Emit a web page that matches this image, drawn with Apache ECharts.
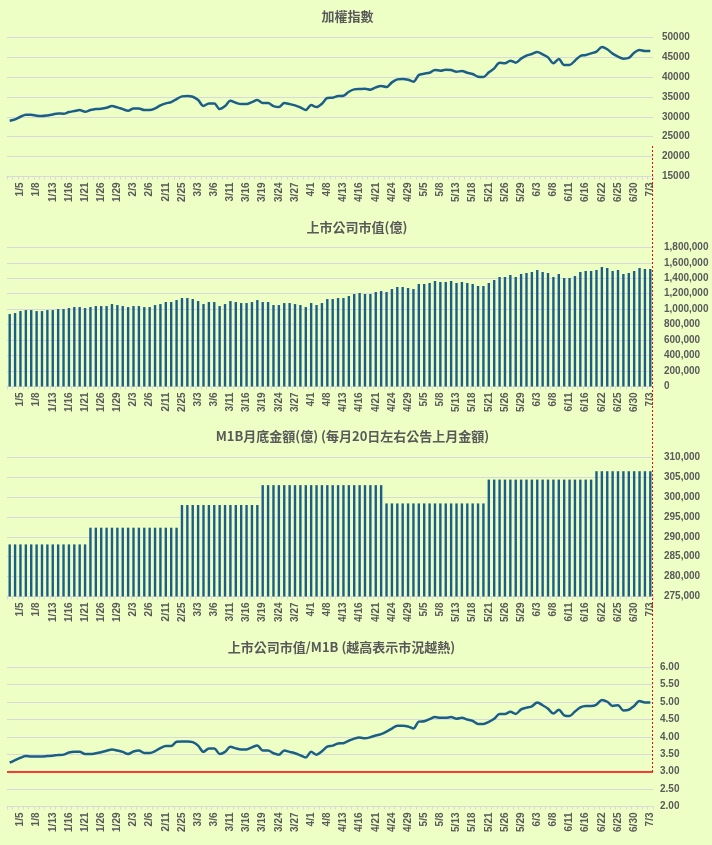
<!DOCTYPE html>
<html>
<head>
<meta charset="utf-8">
<script src="https://cdn.jsdelivr.net/npm/echarts@6/dist/echarts.min.js"></script>
<style>
html,body{margin:0;padding:0;background:#eeffc6;}
#c{width:712px;height:845px;}
</style>
</head>
<body>
<div id="c"></div>
<script>
const dates = ['12/31','1/2',
'1/5','1/6','1/7','1/8','1/9','1/12','1/13','1/14','1/15','1/16','1/19','1/20','1/21','1/22','1/23','1/26','1/27','1/28','1/29','1/30',
'2/2','2/3','2/4','2/5','2/6','2/9','2/10','2/11','2/23','2/24','2/25','2/26',
'3/2','3/3','3/4','3/5','3/6','3/9','3/10','3/11','3/12','3/13','3/16','3/17','3/18','3/19','3/20','3/23','3/24','3/25','3/26','3/27','3/30','3/31',
'4/1','4/2','4/7','4/8','4/9','4/10','4/13','4/14','4/15','4/16','4/17','4/20','4/21','4/22','4/23','4/24','4/27','4/28','4/29','4/30',
'5/4','5/5','5/6','5/7','5/8','5/11','5/12','5/13','5/14','5/15','5/18','5/19','5/20','5/21','5/22','5/25','5/26','5/27','5/28','5/29',
'6/1','6/2','6/3','6/4','6/5','6/8','6/9','6/10','6/11','6/12','6/15','6/16','6/17','6/18','6/22','6/23','6/24','6/25','6/26','6/29','6/30',
'7/1','7/2','7/3'];

const titles = ['加權指數', '上市公司市值(億)', 'M1B月底金額(億) (每月20日左右公告上月金額)', '上市公司市值/M1B (越高表示市況越熱)'];

const taiex = [
29020,29350,30020,30530,30530,30280,30190,30360,30610,30860,
30780,31200,31450,31700,31280,31700,31950,32040,32290,32710,
32370,31950,31530,32120,32120,31700,31700,32120,32880,33380,
33720,34470,35140,35230,35060,34220,32710,33380,33380,31950,
32710,34050,33550,33210,33210,33720,34220,33470,33470,32710,
32460,33470,33210,32880,32370,31700,32960,32460,33300,34720,
34810,35230,35310,36320,36910,37000,37070,36820,37410,37750,
37490,38670,39420,39510,39340,38840,40520,40850,41100,41770,
41610,41860,41770,41350,41520,41100,40770,40100,40010,41190,
42190,43620,43450,44120,43620,44630,45380,45800,46310,45720,
44960,43450,44540,43030,43030,44120,45300,45550,45970,46390,
47560,46980,45890,45130,44630,44800,46140,46810,46560,46560];

const marketCap = [
936700,949600,975500,988500,988500,975500,975500,988500,988500,1001400,
1001400,1014400,1027300,1027300,1014400,1027300,1040300,1040300,1040300,1066200,
1053200,1040300,1027300,1040300,1040300,1027300,1027300,1053200,1066200,1092100,
1092100,1118000,1143900,1143900,1131000,1105000,1066200,1092100,1092100,1040300,
1066200,1105000,1092100,1079100,1079100,1092100,1118000,1092100,1092100,1053200,
1053200,1079100,1079100,1066200,1053200,1027300,1079100,1053200,1079100,1131000,
1131000,1143900,1143900,1169800,1195700,1208600,1195700,1195700,1221600,1234500,
1221600,1260400,1286300,1286300,1273400,1260400,1325200,1325200,1338100,1364000,
1351100,1351100,1364000,1338100,1351100,1338100,1325200,1299300,1299300,1338100,
1377000,1415800,1415800,1441700,1415800,1454700,1467600,1480600,1506500,1480600,
1467600,1415800,1454700,1402900,1402900,1428800,1480600,1493500,1493500,1506500,
1545300,1532400,1493500,1506500,1454700,1467600,1493500,1532400,1519400,1519400];

const m1b = [
288100,288100,288100,288100,288100,288100,288100,288100,288100,288100,
288100,288100,288100,288100,288100,292300,292300,292300,292300,292300,
292300,292300,292300,292300,292300,292300,292300,292300,292300,292300,
292300,292300,298000,298000,298000,298000,298000,298000,298000,298000,
298000,298000,298000,298000,298000,298000,298000,303000,303000,303000,
303000,303000,303000,303000,303000,303000,303000,303000,303000,303000,
303000,303000,303000,303000,303000,303000,303000,303000,303000,303000,
298400,298400,298400,298400,298400,298400,298400,298400,298400,298400,
298400,298400,298400,298400,298400,298400,298400,298400,298400,304400,
304400,304400,304400,304400,304400,304400,304400,304400,304400,304400,
304400,304400,304400,304400,304400,304400,304400,304400,304400,306500,
306500,306500,306500,306500,306500,306500,306500,306500,306500,306500];

const ratio = [
3.26,3.33,3.40,3.45,3.44,3.44,3.44,3.45,3.46,3.48,
3.49,3.55,3.57,3.57,3.51,3.51,3.53,3.56,3.60,3.64,
3.61,3.57,3.51,3.58,3.61,3.54,3.54,3.59,3.68,3.74,
3.74,3.86,3.87,3.87,3.85,3.75,3.57,3.67,3.67,3.51,
3.57,3.72,3.67,3.64,3.64,3.70,3.75,3.61,3.61,3.53,
3.49,3.61,3.57,3.53,3.47,3.41,3.57,3.49,3.59,3.72,
3.75,3.81,3.82,3.89,3.95,3.98,3.96,3.99,4.04,4.08,
4.15,4.24,4.32,4.32,4.30,4.24,4.44,4.45,4.51,4.57,
4.55,4.55,4.57,4.52,4.55,4.50,4.46,4.37,4.37,4.43,
4.52,4.66,4.66,4.72,4.66,4.79,4.84,4.88,4.99,4.91,
4.81,4.67,4.78,4.62,4.60,4.73,4.85,4.89,4.89,4.93,
5.06,5.01,4.89,4.91,4.76,4.78,4.89,5.03,4.99,4.99];

// y-axis tick settings: [min, max, interval]
const yTicks1 = [15000, 50000, 5000];
const yTicks2 = [0, 1800000, 200000];
const yTicks3 = [275000, 310000, 5000];
const yTicks4 = [2, 6, 0.5];
const thresholdRatio = 3;

const DARK = '#1b5f88';
const GRAY = '#595959';
const GRID = '#d9d9d9';

const gridTops = [37.3, 247.3, 457.3, 667.3];
const titleCenters = [[347.5, 15.7], [357, 226.7], [352.5, 435.7], [341.5, 646.7]];

function commas(v) { return String(v).replace(/\B(?=(\d{3})+(?!\d))/g, ','); }

const chart = echarts.init(document.getElementById('c'), null, {renderer: 'canvas'});

const grids = gridTops.map(t => ({left: 7, width: 646, top: t, height: 139.2, containLabel: false}));

const xAxes = [0,1,2,3].map(i => ({
  type: 'category', gridIndex: i, data: dates, boundaryGap: true,
  axisLine: {show: true, lineStyle: {color: GRID, width: 1}},
  axisTick: {show: true, interval: 0, length: 3, lineStyle: {color: GRID}},
  axisLabel: {
    rotate: 90, interval: (idx) => idx % 3 === 2, margin: 6,
    fontSize: 10, fontWeight: 'bold', color: GRAY, fontFamily: 'Liberation Sans'
  },
  splitLine: {show: false}
}));

function yAx(i, t, fmt, margin) {
  return {
    type: 'value', gridIndex: i, position: 'right', min: t[0], max: t[1], interval: t[2],
    axisLine: {show: false}, axisTick: {show: false},
    splitLine: {show: true, lineStyle: {color: GRID, width: 1}},
    axisLabel: {align: 'left', margin: margin, fontSize: 10, fontWeight: 'bold', color: GRAY,
      fontFamily: 'Liberation Sans', formatter: fmt}
  };
}

const yAxes = [
  yAx(0, yTicks1, v => String(v), 9),
  yAx(1, yTicks2, v => commas(v), 11),
  yAx(2, yTicks3, v => commas(v), 11),
  yAx(3, yTicks4, v => v.toFixed(2), 7)
];

const titleOpts = titles.map((t, i) => ({
  text: t, left: titleCenters[i][0], top: titleCenters[i][1], padding: 0,
  textAlign: 'center', textVerticalAlign: 'middle',
  textStyle: {fontFamily: 'Noto Sans CJK TC', fontWeight: 'bold', fontSize: 13, color: GRAY}
}));

chart.setOption({
  backgroundColor: '#eeffc6',
  animation: false,
  title: titleOpts,
  grid: grids,
  xAxis: xAxes,
  yAxis: yAxes,
  series: [
    {type: 'line', xAxisIndex: 0, yAxisIndex: 0, data: taiex, showSymbol: false, symbol: 'none',
     smooth: 0.3, lineStyle: {color: DARK, width: 2.5}, itemStyle: {color: DARK}},
    {type: 'bar', xAxisIndex: 1, yAxisIndex: 1, data: marketCap, barWidth: 2.4,
     itemStyle: {color: DARK}},
    {type: 'bar', xAxisIndex: 2, yAxisIndex: 2, data: m1b, barWidth: 2.4, clip: true,
     itemStyle: {color: DARK}},
    {type: 'line', xAxisIndex: 3, yAxisIndex: 3, data: ratio, showSymbol: false, symbol: 'none',
     smooth: 0.3, lineStyle: {color: DARK, width: 2.5}, itemStyle: {color: DARK},
     markLine: {silent: true, symbol: ['none', 'none'], label: {show: false},
       lineStyle: {color: '#ff0000', width: 1.5, type: 'solid'},
       data: [{yAxis: thresholdRatio}]}}
  ],
  graphic: [{
    type: 'line', silent: true, z: 100,
    shape: {x1: 652.5, y1: 146, x2: 652.5, y2: 774},
    style: {stroke: '#ff0000', lineWidth: 1, lineDash: [2, 2]}
  }]
});
</script>
</body>
</html>
